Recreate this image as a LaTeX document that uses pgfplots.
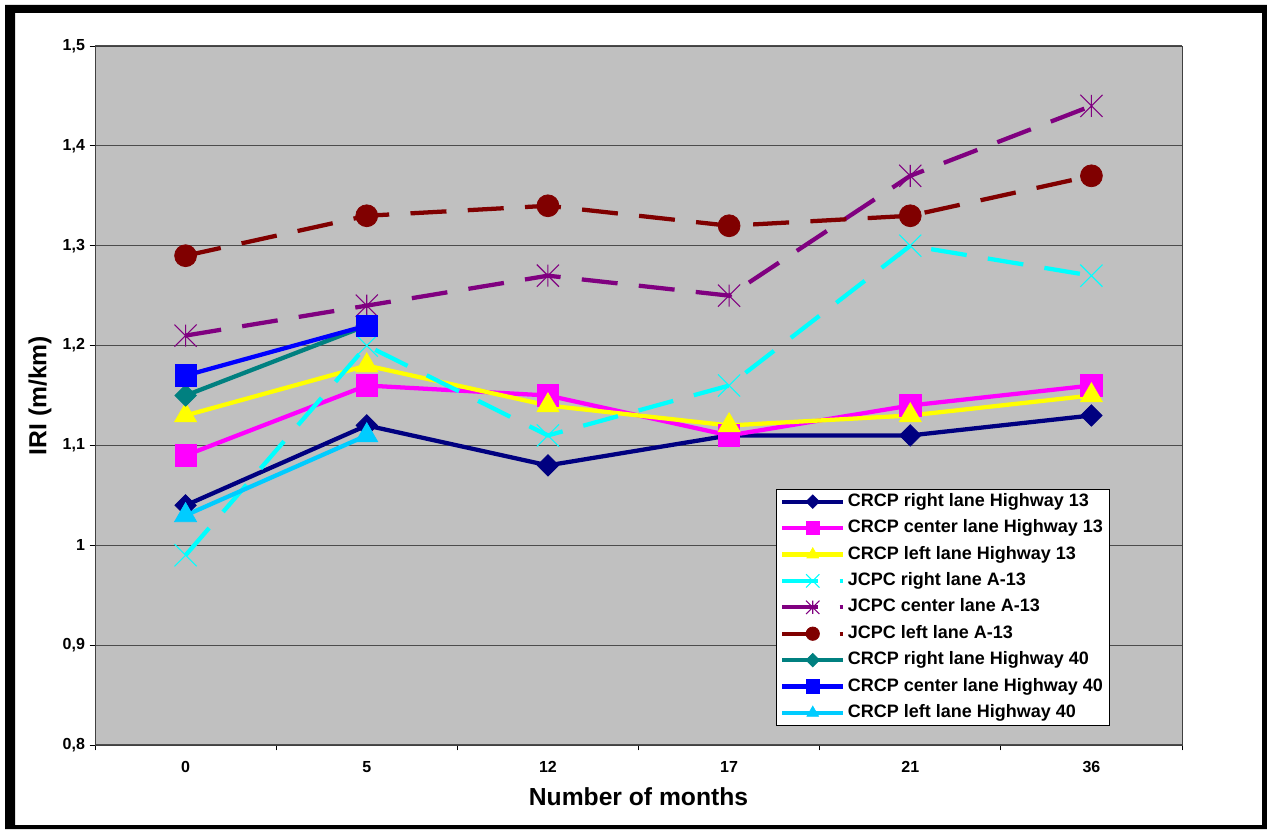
\documentclass[border=0pt]{standalone}
\usepackage{pgfplots}
\pgfplotsset{compat=1.18}
\usepackage{fontspec}
\setmainfont{Liberation Sans}
\definecolor{cnavy}{HTML}{000080}
\definecolor{cmag}{HTML}{FF00FF}
\definecolor{cyel}{HTML}{FFFF00}
\definecolor{ccyan}{HTML}{00FFFF}
\definecolor{cpurp}{HTML}{800080}
\definecolor{cdred}{HTML}{800000}
\definecolor{cteal}{HTML}{008080}
\definecolor{cblue}{HTML}{0000FF}
\definecolor{csky}{HTML}{00CCFF}
\definecolor{cbg}{HTML}{C0C0C0}
\pgfdeclareplotmark{sqdiamond}{%
  \pgfpathmoveto{\pgfqpoint{0pt}{\pgfplotmarksize}}%
  \pgfpathlineto{\pgfqpoint{\pgfplotmarksize}{0pt}}%
  \pgfpathlineto{\pgfqpoint{0pt}{-\pgfplotmarksize}}%
  \pgfpathlineto{\pgfqpoint{-\pgfplotmarksize}{0pt}}%
  \pgfpathclose\pgfusepathqfillstroke}
\pgfdeclareplotmark{xstar}{%
  \pgfpathmoveto{\pgfqpoint{-\pgfplotmarksize}{-\pgfplotmarksize}}%
  \pgfpathlineto{\pgfqpoint{\pgfplotmarksize}{\pgfplotmarksize}}%
  \pgfpathmoveto{\pgfqpoint{-\pgfplotmarksize}{\pgfplotmarksize}}%
  \pgfpathlineto{\pgfqpoint{\pgfplotmarksize}{-\pgfplotmarksize}}%
  \pgfpathmoveto{\pgfqpoint{0pt}{-\pgfplotmarksize}}%
  \pgfpathlineto{\pgfqpoint{0pt}{\pgfplotmarksize}}%
  \pgfusepathqstroke}
\pgfdeclareplotmark{xcross}{%
  \pgfpathmoveto{\pgfqpoint{-\pgfplotmarksize}{-\pgfplotmarksize}}%
  \pgfpathlineto{\pgfqpoint{\pgfplotmarksize}{\pgfplotmarksize}}%
  \pgfpathmoveto{\pgfqpoint{-\pgfplotmarksize}{\pgfplotmarksize}}%
  \pgfpathlineto{\pgfqpoint{\pgfplotmarksize}{-\pgfplotmarksize}}%
  \pgfusepathqstroke}
\begin{document}
\begin{tikzpicture}
\path (0pt,0pt) rectangle (950.25pt,621.75pt);
\fill[black, even odd rule] (3.75pt,0pt) rectangle (950.25pt,618pt) (11.25pt,3pt) rectangle (946.5pt,612pt);
\begin{axis}[
  at={(71.25pt,63pt)}, anchor=south west,
  scale only axis, width=815.25pt, height=524.25pt,
  xmin=-0.5, xmax=5.5, ymin=0.8, ymax=1.5,
  axis background/.style={fill=cbg},
  axis line style={black!75, line width=0.6pt},
  xtick={-0.5,0.5,1.5,2.5,3.5,4.5,5.5}, xticklabels={},
  extra x ticks={0,1,2,3,4,5},
  extra x tick labels={0,5,12,17,21,36},
  extra x tick style={major tick length=0pt, xticklabel style={yshift=-9pt}},
  ytick={0.8,0.9,1,1.1,1.2,1.3,1.4,1.5},
  xtick pos=bottom, ytick pos=left,
  tick align=outside, major tick length=4pt,
  tick style={black, line width=0.6pt},
  ymajorgrids, major grid style={black!70, line width=0.9pt},
  /pgf/number format/.cd, use comma, 1000 sep={}, assume math mode=true,
  /pgfplots/.cd,
  ticklabel style={font=\fontsize{12}{14}\selectfont\bfseries},
  xlabel={Number of months}, ylabel={IRI (m/km)},
  label style={font=\fontsize{18.5}{22}\selectfont\bfseries},
  xlabel style={at={(rel axis cs:0.5,-0.0744)}, anchor=center},
  ylabel style={at={(rel axis cs:-0.0506,0.5)}, anchor=center, rotate=0},
  every axis plot/.append style={line width=3.2pt},
  legend style={at={(rel axis cs:0.9338,0.0272)}, anchor=south east,
    draw=black, fill=white, line width=0.6pt,
    font=\fontsize{13.5}{16}\selectfont\bfseries,
    nodes={inner sep=2pt, text depth=3pt, text height=10pt},
    row sep=2.8pt, inner xsep=3pt, inner ysep=1pt},
  legend cell align=left,
  legend image code/.code={\draw[mark repeat=2,mark phase=2] plot coordinates {(0cm,0cm) (0.8cm,0cm) (1.6cm,0cm)};},
  legend image post style={mark size=5pt},
]
\addplot[cnavy, mark=sqdiamond, mark size=8pt, mark options={solid, line width=0.6pt}] coordinates {(0,1.04) (1,1.12) (2,1.08) (3,1.11) (4,1.11) (5,1.13)};
\addlegendentry{CRCP right lane Highway 13}
\addplot[cmag, mark=square*, mark size=8pt, mark options={solid, line width=0.6pt}] coordinates {(0,1.09) (1,1.16) (2,1.15) (3,1.11) (4,1.14) (5,1.16)};
\addlegendentry{CRCP center lane Highway 13}
\addplot[cyel, mark=triangle*, mark size=9.5pt, mark options={solid, line width=0.6pt}] coordinates {(0,1.13) (1,1.18) (2,1.14) (3,1.12) (4,1.13) (5,1.15)};
\addlegendentry{CRCP left lane Highway 13}
\addplot[ccyan, dash pattern=on 27pt off 16pt, mark=xcross, mark size=8.3pt, mark options={solid, line width=0.8pt}] coordinates {(0,0.99) (1,1.20) (2,1.11) (3,1.16) (4,1.30) (5,1.27)};
\addlegendentry{JCPC right lane A-13}
\addplot[cpurp, dash pattern=on 27pt off 16pt, mark=xstar, mark size=8.3pt, mark options={solid, line width=0.8pt}] coordinates {(0,1.21) (1,1.24) (2,1.27) (3,1.25) (4,1.37) (5,1.44)};
\addlegendentry{JCPC center lane A-13}
\addplot[cdred, dash pattern=on 27pt off 16pt, mark=*, mark size=8.2pt, mark options={solid, line width=0.6pt}] coordinates {(0,1.29) (1,1.33) (2,1.34) (3,1.32) (4,1.33) (5,1.37)};
\addlegendentry{JCPC left lane A-13}
\addplot[cteal, mark=sqdiamond, mark size=8pt, mark options={solid, line width=0.6pt}] coordinates {(0,1.15) (1,1.22)};
\addlegendentry{CRCP right lane Highway 40}
\addplot[cblue, mark=square*, mark size=8pt, mark options={solid, line width=0.6pt}] coordinates {(0,1.17) (1,1.22)};
\addlegendentry{CRCP center lane Highway 40}
\addplot[csky, mark=triangle*, mark size=9.5pt, mark options={solid, line width=0.6pt}] coordinates {(0,1.03) (1,1.11)};
\addlegendentry{CRCP left lane Highway 40}
\end{axis}
\end{tikzpicture}
\end{document}
